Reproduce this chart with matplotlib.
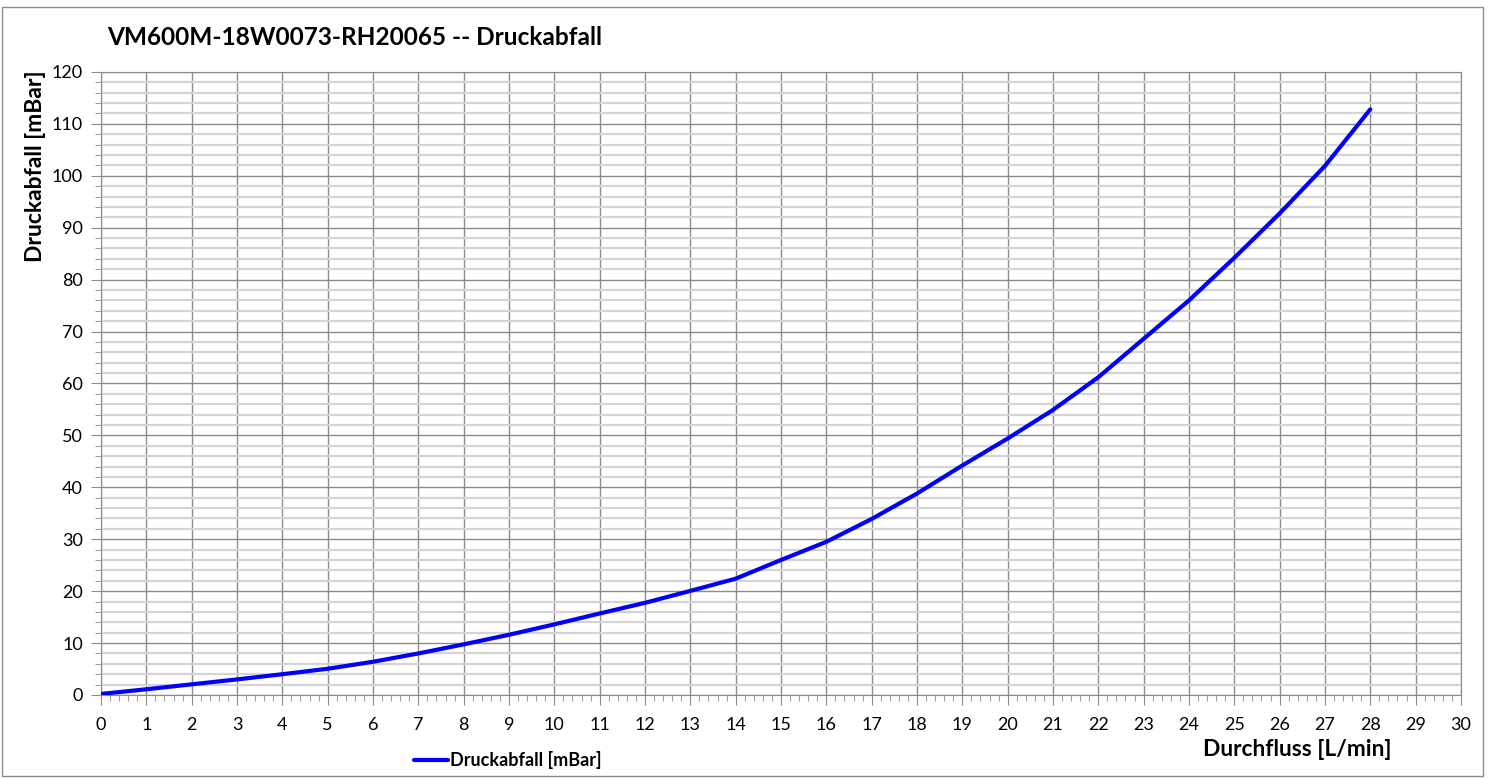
import matplotlib.pyplot as plt
from matplotlib.ticker import MultipleLocator
from matplotlib.patches import Rectangle

plt.rcParams['font.family'] = ['Lato', 'DejaVu Sans']

# Durchfluss [L/min]
flow = [0, 1, 2, 3, 4, 5, 6, 7, 8, 9, 10, 11, 12, 13, 14,
        15, 16, 17, 18, 19, 20, 21, 22, 23, 24, 25, 26, 27, 28]
# Druckabfall [mBar]
pressure = [0.2, 1.1, 2.05, 3.0, 4.0, 5.05, 6.4, 8.0, 9.75, 11.6, 13.6, 15.7, 17.75, 20.05, 22.4,
            26.0, 29.5, 33.9, 38.8, 44.2, 49.4, 54.9, 61.2, 68.6, 76.0, 84.2, 92.75, 101.9, 112.8]

title = "VM600M-18W0073-RH20065 -- Druckabfall"
series_name = "Druckabfall [mBar]"

fig = plt.figure(figsize=(14.9, 7.78), dpi=100)
ax = fig.add_axes([0.0678, 0.1067, 0.9127, 0.8008])

ax.plot(flow, pressure, color='#0000ff', lw=3.0, solid_capstyle='round', solid_joinstyle='round',
        label=series_name, zorder=3)

ax.set_xlim(0, 30)
ax.set_ylim(0, 120)
ax.xaxis.set_major_locator(MultipleLocator(1))
ax.xaxis.set_minor_locator(MultipleLocator(0.2))
ax.yaxis.set_major_locator(MultipleLocator(10))
ax.yaxis.set_minor_locator(MultipleLocator(2))

ax.grid(which='major', color='#8c8c8c', lw=1.0)
ax.grid(which='minor', axis='y', color='#d4d4d4', lw=1.6)
ax.set_axisbelow(True)

for s in ax.spines.values():
    s.set_color('#8c8c8c')
ax.tick_params(which='major', length=7, color='#8c8c8c', labelsize=13, pad=6)
ax.tick_params(which='minor', length=4, color='#8c8c8c')
ax.tick_params(axis='x', pad=9)

fig.text(0.072, 0.952, title, fontsize=17.6, fontweight='bold', ha='left', va='center')
fig.text(0.024, 0.787, "Druckabfall [mBar]", fontsize=16.5, fontweight='bold', rotation=90, ha='center', va='center')
fig.text(0.934, 0.036, "Durchfluss [L/min]", fontsize=16.4, fontweight='bold', ha='right', va='center')

leg = ax.legend(loc='center left', bbox_to_anchor=(0.218, -0.105), frameon=False,
                prop={'size': 13, 'weight': 'bold'}, handlelength=1.9, handletextpad=0.1)

fig.patches.append(Rectangle((0.0015, 0.003), 0.9935, 0.988, transform=fig.transFigure,
                             fill=False, edgecolor='#8c8c8c', lw=1.0))

fig.savefig('out.png', dpi=100)
